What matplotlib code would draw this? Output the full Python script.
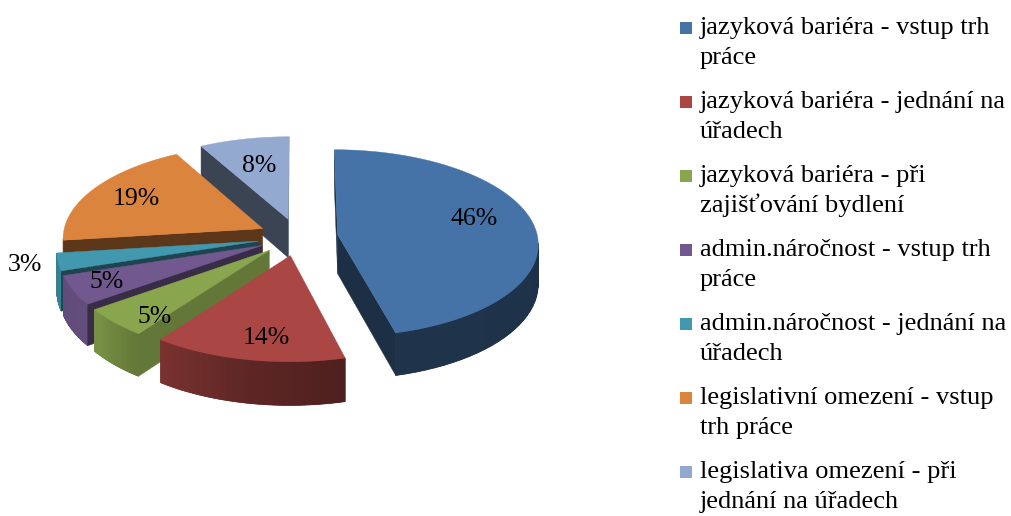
import numpy as np
import matplotlib
matplotlib.use("Agg")
import matplotlib.pyplot as plt
from matplotlib.patches import Polygon, Rectangle
from matplotlib.colors import to_rgb

plt.rcParams['font.family'] = ['Liberation Serif', 'DejaVu Serif']

labels = [
    "jazyková bariéra - vstup trh\npráce",
    "jazyková bariéra - jednání na\núřadech",
    "jazyková bariéra - při\nzajišťování bydlení",
    "admin.náročnost - vstup trh\npráce",
    "admin.náročnost - jednání na\núřadech",
    "legislativní omezení - vstup\ntrh práce",
    "legislativa omezení - při\njednání na úřadech",
]
shares = [46, 14, 5, 5, 3, 19, 8]
colors = ["#4572A7", "#AA4643", "#89A54E", "#71588F", "#4198AF", "#DB843D", "#93A9CF"]

# layout of the fake 3d pie (pixels)
W, H = 1011, 516
CX, CY = 298, 237
R = 200
TILT = 0.465
PERSP = 0.09
DEPTH = 39
EXPLODE = 0.2
# where the % label sits: radius and position inside the slice (0..1)
label_r = [0.72, 0.8, 0.84, 0.83, 1.16, 0.74, 0.64]
label_pos = [0.46, 0.44, 0.15, 0.5, 0.5, 0.5, 0.5]

# shading factors for side walls / cut faces vs. normal direction (deg, clockwise from back)
wall_ang = [90, 165, 190, 216, 232, 250, 275]
wall_f = [0.43, 0.45, 0.55, 0.72, 0.88, 0.86, 0.8]
cut_ang = [90, 126, 144, 162, 180, 240, 275]
cut_f = [0.7, 0.72, 0.5, 0.45, 0.4, 0.4, 0.42]


def project(u, v, z):
    s = 1.0 / (1.0 + PERSP * v)
    return CX + u * R * s, CY - v * R * TILT * s - z * s


def shade(c, f):
    return tuple(np.clip(np.array(to_rgb(c)) * f, 0, 1))


def signed_area(pts):
    x, y = pts[:, 0], pts[:, 1]
    return 0.5 * np.sum(x * np.roll(y, -1) - np.roll(x, -1) * y)


fig = plt.figure(figsize=(W / 100, H / 100), dpi=100)
ax = fig.add_axes([0, 0, 1, 1])
ax.set_xlim(0, W)
ax.set_ylim(H, 0)
ax.axis('off')

fr = np.array(shares) / sum(shares)
ends = np.cumsum(fr) * 360
starts = ends - fr * 360


def P(u, v, z):
    return np.array(project(u, v, z))


walls = []
tops = []
for i in range(len(shares)):
    s, e = starts[i], ends[i]
    mid = np.radians((s + e) / 2)
    ou, ov = EXPLODE * np.sin(mid), EXPLODE * np.cos(mid)
    arc = np.radians(np.linspace(s, e, 60))
    ru, rv = ou + np.sin(arc), ov + np.cos(arc)
    toprim = np.array([P(a, b, 0) for a, b in zip(ru, rv)])
    botrim = np.array([P(a, b, -DEPTH) for a, b in zip(ru, rv)])

    key = ov + 0.5 * np.cos(mid)
    faces = []
    # outer curved wall, split in strips for the shading gradient
    vis = []
    for k in range(len(arc) - 1):
        q = np.array([toprim[k], toprim[k + 1], botrim[k + 1], botrim[k]])
        if signed_area(q) < 0:
            vis.append(k)
    if vis:
        k0, k1 = min(vis), max(vis) + 1
        full = np.vstack([toprim[k0:k1 + 1], botrim[k0:k1 + 1][::-1]])
        angm = np.degrees((arc[k0] + arc[k1]) / 2) % 360
        faces.append((full, shade(colors[i], np.interp(angm, wall_ang, wall_f)), 0))
        for k in vis:
            q = np.array([toprim[k], toprim[k + 1], botrim[k + 1], botrim[k]])
            ang = np.degrees((arc[k] + arc[k + 1]) / 2) % 360
            faces.append((q, shade(colors[i], np.interp(ang, wall_ang, wall_f)), 0.5))
    # cut faces
    q = np.array([P(ou, ov, 0), toprim[0], botrim[0], P(ou, ov, -DEPTH)])
    if signed_area(q) < 0:
        faces.append((q, shade(colors[i], np.interp((s - 90) % 360, cut_ang, cut_f)), 0.3))
    q = np.array([toprim[-1], P(ou, ov, 0), P(ou, ov, -DEPTH), botrim[-1]])
    if signed_area(q) < 0:
        faces.append((q, shade(colors[i], np.interp((e + 90) % 360, cut_ang, cut_f)), 0.3))
    walls.append((key, faces))

    tops.append(np.vstack([P(ou, ov, 0), toprim]))

    la = np.radians(s + label_pos[i] * (e - s))
    lx, ly = project(ou + label_r[i] * np.sin(la), ov + label_r[i] * np.cos(la), 0)
    ax.text(lx, ly, f"{shares[i]}%", ha='center', va='center', fontsize=18.5,
            color='black', zorder=50)

z = 1
for key, faces in sorted(walls, key=lambda t: -t[0]):
    for q, c, lw in faces:
        ax.add_patch(Polygon(q, closed=True, facecolor=c, edgecolor=c if lw else 'none',
                             linewidth=lw, zorder=z))
    z += 1
for i, top in enumerate(tops):
    ax.add_patch(Polygon(top, closed=True, facecolor=colors[i], edgecolor=colors[i],
                         linewidth=0.3, zorder=20))

# legend
for i, lab in enumerate(labels):
    yc = 27.5 + 74 * i
    ax.add_patch(Rectangle((680, yc - 6), 12, 12, facecolor=colors[i], edgecolor='none', zorder=30))
    for j, line in enumerate(lab.split("\n")):
        ax.text(700, yc + 6.5 + 30 * j, line, ha='left', va='baseline', fontsize=19, zorder=30)

fig.savefig("out.png", dpi=100)
